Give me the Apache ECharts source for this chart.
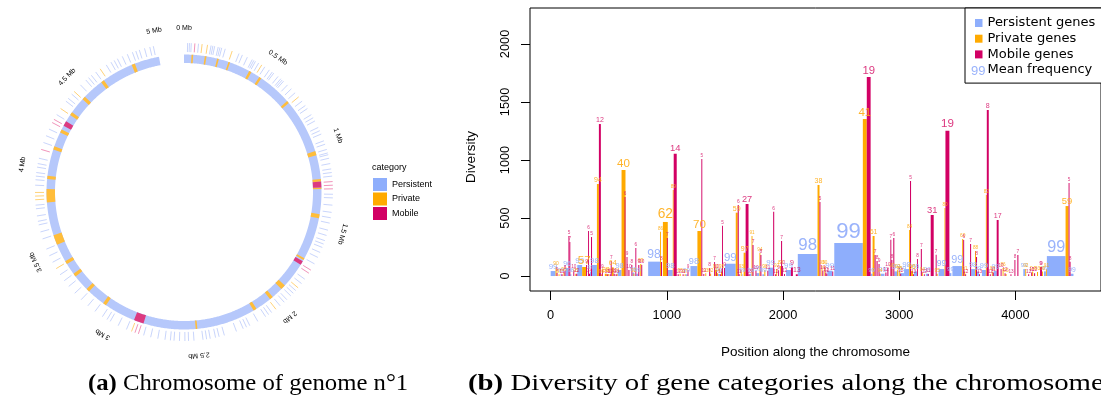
<!DOCTYPE html>
<html><head><meta charset="utf-8">
<script src="https://cdn.jsdelivr.net/npm/echarts@6/dist/echarts.min.js"></script>
<style>html,body{margin:0;padding:0;background:#fff}#c{width:1101px;height:399px}</style>
</head><body><div id="c"></div>
<script>
// ---------------- DATA ----------------
const categories = ['Persistent', 'Private', 'Mobile'];
const barSeriesNames = ['Persistent genes', 'Private genes', 'Mobile genes'];
const meanFreqName = 'Mean frequency';
const xTicks = [0, 1000, 2000, 3000, 4000];
const yTicks = [0, 500, 1000, 1500, 2000];

// [start, end, diversity, mean frequency]
const persistentBars = [
[0,42,43,99],[85,93,20,99],[127,153,69,96],[169,178,15,98],[229,271,95,99],[339,347,40,99],[356,398,95,98],[576,610,52,98],[703,720,30,99],[737,754,20,99],[839,941,124,98],[1008,1051,52,98],[1161,1178,15,99],[1203,1263,86,98],[1441,1458,18,99],[1500,1593,106,99],[1644,1652,15,99],[1712,1729,20,99],[1771,1797,25,99],[1822,1839,15,99],[1873,1915,72,99],[2026,2068,52,99],[2127,2297,190,98],[2381,2424,46,99],[2441,2687,284,99],[2754,2771,20,99],[2839,2873,20,99],[2958,2992,40,99],[3009,3042,25,99],[3042,3085,60,98],[3127,3153,40,99],[3229,3254,20,99],[3339,3390,60,99],[3432,3449,25,99],[3458,3542,86,99],[3619,3653,60,98],[3670,3687,40,99],[3712,3746,52,99],[3814,3839,43,99],[4068,4085,60,99],[4246,4263,40,99],[4271,4432,172,99],[4475,4500,20,99]
];
const privateBars = [
[42,51,80,90],[68,76,15,97],[110,119,30,96],[212,220,20,95],[271,305,78,57],[398,415,793,94],[432,441,15,90],[466,483,20,88],[492,500,18,93],[525,542,75,64],[568,576,20,91],[610,644,914,40],[712,720,20,92],[771,780,103,89],[941,949,382,86],[966,1008,466,62],[1051,1059,741,89],[1110,1119,20,95],[1153,1161,15,97],[1263,1297,388,70],[1331,1339,23,93],[1373,1381,20,92],[1415,1424,52,90],[1432,1441,23,94],[1466,1475,52,95],[1593,1610,546,59],[1636,1644,52,93],[1661,1678,201,97],[1729,1737,345,91],[1797,1805,198,94],[1839,1848,52,90],[1941,1949,60,92],[1975,1983,86,88],[2297,2314,785,38],[2331,2339,89,93],[2356,2364,86,90],[2687,2721,1353,41],[2771,2788,345,61],[2831,2839,20,94],[2933,2941,60,90],[2983,2992,52,92],[3000,3009,40,95],[3085,3093,397,84],[3102,3119,45,96],[3195,3203,30,94],[3322,3331,20,95],[3390,3398,586,80],[3542,3551,319,60],[3559,3568,40,91],[3653,3661,216,88],[3746,3754,698,82],[3797,3805,40,93],[3890,3898,69,86],[3915,3924,18,95],[4085,4093,60,92],[4144,4153,40,94],[4186,4195,35,93],[4229,4237,40,96],[4263,4271,60,91],[4432,4458,603,59]
];
const mobileBars = [
[51,59,26,9],[93,102,15,11],[119,127,46,8],[153,161,345,5],[161,169,293,7],[195,203,52,10],[220,229,20,12],[305,313,95,9],[322,330,388,6],[330,339,20,14],[347,356,336,5],[415,432,1310,12],[441,449,57,9],[483,492,15,13],[508,517,15,12],[517,525,129,7],[542,551,20,11],[559,568,15,13],[636,644,681,6],[653,661,164,9],[669,678,52,10],[695,703,95,8],[729,737,241,6],[754,763,95,9],[780,788,95,10],[949,958,121,8],[1000,1008,327,7],[1059,1085,1054,14],[1093,1102,15,12],[1136,1144,15,11],[1178,1186,52,9],[1297,1305,1009,5],[1314,1322,18,11],[1364,1373,69,8],[1407,1415,121,7],[1424,1432,52,10],[1458,1466,15,12],[1475,1483,434,5],[1492,1500,69,9],[1610,1619,612,6],[1619,1627,15,11],[1678,1703,621,27],[1703,1712,15,13],[1737,1746,267,7],[1763,1771,46,10],[1805,1814,181,8],[1865,1873,46,11],[1915,1924,555,6],[1932,1941,15,12],[1958,1966,50,9],[1983,1992,302,7],[1992,2000,86,10],[2009,2017,18,12],[2068,2085,75,9],[2110,2127,15,13],[2314,2322,638,5],[2339,2347,45,10],[2364,2373,30,11],[2373,2381,20,12],[2424,2432,40,11],[2721,2754,1716,19],[2788,2797,181,7],[2805,2814,129,8],[2822,2831,103,9],[2881,2890,30,12],[2898,2907,69,10],[2924,2932,313,7],[2932,2941,138,8],[2949,2958,328,6],[3009,3017,20,12],[3093,3102,819,5],[3119,3127,15,13],[3153,3161,147,8],[3186,3195,233,7],[3212,3220,15,12],[3246,3254,18,11],[3271,3297,526,31],[3314,3322,184,7],[3398,3432,1253,19],[3551,3559,310,6],[3568,3576,15,12],[3610,3619,276,7],[3661,3670,164,8],[3687,3695,15,13],[3754,3771,1431,8],[3780,3788,15,12],[3805,3814,30,11],[3839,3856,483,17],[3873,3881,60,10],[3907,3915,25,12],[3958,3966,15,13],[3992,4000,138,8],[4017,4026,181,7],[4110,4119,15,12],[4136,4144,30,11],[4161,4170,25,12],[4212,4220,78,9],[4220,4229,78,9],[4458,4466,802,5],[4466,4475,124,8]
];

// Circular genome (positions in Mb)
const genomeLengthMb = 5.0;
const circleFullTurnMb = 5.15;
const mbTicks = [0, 0.5, 1, 1.5, 2, 2.5, 3, 3.5, 4, 4.5, 5];
const mbTickLabels = ['0 Mb', '0.5 Mb', '1 Mb', '1.5 Mb', '2 Mb', '2.5 Mb', '3 Mb', '3.5 Mb', '4 Mb', '4.5 Mb', '5 Mb'];
// inner track stripes [start, end, category index]
const innerStripes = [
[0,5.0,0],
[0.045,0.055,1],[0.125,0.135,1],[0.2,0.21,1],[0.27,0.28,1],[0.405,0.42,1],[0.475,0.49,1],[0.695,0.71,1],[1.04,1.065,1],
[1.21,1.225,1],[1.225,1.26,2],[1.26,1.27,1],[1.42,1.445,1],[1.7,1.712,1],[1.72,1.745,2],[1.9,1.93,1],[2.0,2.02,1],[2.12,2.14,1],
[2.495,2.505,1],[2.82,2.88,2],[3.07,3.09,1],[3.2,3.22,1],[3.32,3.34,1],[3.41,3.43,1],[3.54,3.6,1],[3.8,3.88,1],[3.94,3.96,1],
[4.12,4.14,1],[4.23,4.25,1],[4.275,4.305,2],[4.35,4.37,1],[4.47,4.49,1],[4.62,4.64,1],[4.83,4.85,1]
];
// outer track ticks [position, category index]
const outerTicks = [
[0.02,0],[0.03,0],[0.04,0],[0.06,2],[0.08,0],[0.1,1],[0.13,1],[0.15,0],[0.16,0],[0.17,0],[0.19,0],[0.2,0],[0.21,0],[0.23,0],[0.27,1],[0.31,0],[0.33,0],[0.36,0],[0.39,0],[0.4,0],[0.41,0],[0.43,0],[0.45,1],[0.47,0],[0.5,0],[0.52,0],[0.53,0],[0.56,0],[0.58,0],[0.59,0],[0.6,0],[0.63,0],
[0.66,0],[0.69,0],[0.72,1],[0.75,0],[0.78,0],[0.8,0],[0.84,0],[0.86,0],[0.88,0],[0.92,0],[0.94,0],[0.96,0],[1.0,0],[1.02,0],[1.05,0],[1.07,0],[1.08,0],[1.1,0],[1.13,0],[1.16,0],[1.18,0],[1.2,0],[1.23,2],[1.25,2],[1.27,2],
[1.3,0],[1.32,0],[1.36,0],[1.4,0],[1.43,0],[1.46,0],[1.5,0],[1.53,0],[1.56,0],[1.58,0],[1.6,0],[1.63,0],[1.66,0],[1.7,0],[1.74,2],[1.76,2],[1.8,0],[1.83,0],[1.86,1],[1.88,0],[1.9,0],[1.92,0],
[1.95,0],[1.97,0],[2.0,0],[2.03,1],[2.06,0],[2.08,0],[2.1,0],[2.15,0],[2.2,0],[2.22,0],[2.24,0],[2.28,0],[2.35,0],[2.38,0],[2.4,0],[2.43,0],[2.45,0],[2.47,0],[2.52,0],[2.55,0],[2.57,0],
[2.6,0],[2.63,0],[2.65,0],[2.68,0],[2.72,0],[2.76,0],[2.8,0],[2.83,2],[2.85,2],[2.87,1],[2.9,0],[2.95,0],[3.0,0],[3.02,0],[3.05,0],[3.1,0],[3.15,0],[3.2,0],
[3.25,0],[3.3,0],[3.34,0],[3.38,0],[3.42,1],[3.46,0],[3.5,0],[3.54,0],[3.6,0],[3.64,0],[3.68,0],[3.7,0],[3.73,0],[3.77,0],[3.79,0],[3.82,1],[3.84,1],[3.86,1],
[3.9,0],[3.93,0],[3.95,0],[3.97,0],[4.0,0],[4.02,0],[4.05,0],[4.1,2],[4.14,0],[4.18,0],[4.22,0],[4.26,2],[4.28,2],[4.31,0],[4.35,1],[4.4,0],[4.42,0],[4.45,0],[4.47,1],
[4.52,0],[4.56,0],[4.58,0],[4.6,0],[4.63,0],[4.66,1],[4.7,0],[4.73,0],[4.75,0],[4.77,0],[4.8,0],[4.83,0],[4.86,0],[4.88,0],[4.9,0],[4.93,0],[4.96,0],[4.98,0]
];

// ---------------- STYLE ----------------
const catColors = ['#8eaefc', '#ffaa00', '#d20064'];
const ringColors = ['#b6c8fb', '#ffbd3a', '#dc3a80'];
const tickColors = ['#c3d0fb', '#ffcd6a', '#ee88b2'];
const labelColors = ['#9ab3fb', 'rgba(255,172,20,0.9)', 'rgba(214,20,105,0.85)'];

const chart = echarts.init(document.getElementById('c'), null, {width: 1101, height: 399});

function ringRender(r0, r1, color) {
  return function (params, api) {
    const a0 = api.value(0), a1 = api.value(1);
    const n = Math.max(1, Math.ceil((a1 - a0) / 0.005));
    const pts = [];
    for (let i = 0; i <= n; i++) pts.push(api.coord([r1, a0 + (a1 - a0) * i / n]));
    for (let i = n; i >= 0; i--) pts.push(api.coord([r0, a0 + (a1 - a0) * i / n]));
    return {type: 'polygon', shape: {points: pts}, style: {fill: color}};
  };
}
function tickRender(r0, r1, color) {
  return function (params, api) {
    const p = api.value(0);
    const a = api.coord([r0, p]), b = api.coord([r1, p]);
    return {type: 'line', shape: {x1: a[0], y1: a[1], x2: b[0], y2: b[1]}, style: {stroke: color, lineWidth: 0.9}};
  };
}
function mbLabelRender(params, api) {
  const pos = api.value(0);
  const c = api.coord([0, 0]);
  const p = api.coord([164, pos]);
  const theta = Math.atan2(p[0] - c[0], c[1] - p[1]);
  return {type: 'text', x: p[0], y: p[1], rotation: -theta,
    style: {text: mbTickLabels[params.dataIndex], align: 'center', verticalAlign: 'middle', fontSize: 7, fontFamily: 'Liberation Sans', fill: '#000'}};
}
function barRender(ci) {
  return function (params, api) {
    const x0 = api.value(0), x1 = api.value(1), v = api.value(2), lab = api.value(3);
    const p0 = api.coord([x0, 0]);
    const p1 = api.coord([x1, v]);
    const w = Math.max(0.8, p1[0] - p0[0]);
    const fs = ci === 0 ? 5 + 0.6 * w : 2.5 + 2.3 * w;
    return {type: 'group', children: [
      {type: 'rect', shape: {x: p0[0], y: p1[1], width: w, height: p0[1] - p1[1]}, style: {fill: catColors[ci]}},
      {type: 'text', z2: 5, style: {text: String(lab), x: p0[0] + w / 2, y: p1[1] - 0.5, align: 'center', verticalAlign: 'bottom',
        fontSize: fs, fontFamily: 'Liberation Sans', fill: labelColors[ci]}}
    ]};
  };
}

const series = [];
[0, 1, 2].forEach(ci => {
  series.push({type: 'custom', name: categories[ci], coordinateSystem: 'polar', itemStyle: {color: catColors[ci]},
    data: innerStripes.filter(d => d[2] === ci).map(d => [d[0], d[1]]), renderItem: ringRender(129, 137.5, ringColors[ci]), silent: true});
});
[0, 1, 2].forEach(ci => {
  series.push({type: 'custom', name: categories[ci], coordinateSystem: 'polar', itemStyle: {color: catColors[ci]},
    data: outerTicks.filter(d => d[1] === ci).map(d => [d[0]]), renderItem: tickRender(140, 149, tickColors[ci]), silent: true});
});
series.push({type: 'custom', name: 'mb', coordinateSystem: 'polar', data: mbTicks.map(v => [v]), renderItem: mbLabelRender, silent: true});
const barData = [persistentBars, privateBars, mobileBars];
[0, 1, 2].forEach(ci => {
  series.push({type: 'custom', name: barSeriesNames[ci], xAxisIndex: 0, yAxisIndex: 0, itemStyle: {color: catColors[ci]},
    data: barData[ci], encode: {x: [0, 1], y: 2}, renderItem: barRender(ci), clip: false, silent: true});
});
series.push({type: 'custom', name: meanFreqName, xAxisIndex: 0, yAxisIndex: 0, data: [], renderItem: () => null, itemStyle: {color: '#9ab3fb'}});

const plain = v => String(v);
const option = {
  animation: false,
  textStyle: {fontFamily: 'Liberation Sans'},
  title: {text: 'category', left: 372, top: 163, padding: 0, textStyle: {fontSize: 9, fontWeight: 'normal', fontFamily: 'Liberation Sans', color: '#000'}},
  legend: [
    {data: categories, orient: 'vertical', left: 373, top: 178, padding: 0, itemWidth: 14, itemHeight: 13, itemGap: 1.5, icon: 'rect',
      selectedMode: false, textStyle: {fontSize: 9, fontFamily: 'Liberation Sans', color: '#000'}},
    {data: [{name: barSeriesNames[0]}, {name: barSeriesNames[1]}, {name: barSeriesNames[2]}, {name: meanFreqName, icon: 'none'}],
      orient: 'vertical', left: 965, top: 8, padding: [8, 20, 6, 10], itemWidth: 7.5, itemHeight: 8, itemGap: 1.7, icon: 'rect',
      borderColor: '#000', borderWidth: 1, backgroundColor: '#fff', selectedMode: false,
      textStyle: {fontSize: 13, lineHeight: 14, fontFamily: 'DejaVu Sans', color: '#000'}}
  ],
  polar: {center: [184, 192], radius: 150},
  angleAxis: {type: 'value', min: 0, max: circleFullTurnMb, startAngle: 90, clockwise: true,
    axisLine: {show: false}, axisTick: {show: false}, axisLabel: {show: false}, splitLine: {show: false}},
  radiusAxis: {type: 'value', min: 0, max: 150, axisLine: {show: false}, axisTick: {show: false}, axisLabel: {show: false}, splitLine: {show: false}},
  grid: {left: 530, top: 8, width: 580, height: 283, show: true, borderColor: '#000', borderWidth: 1, backgroundColor: 'transparent', containLabel: false},
  xAxis: {type: 'value', min: -178, max: 4737,
    axisLine: {show: false, onZero: false}, splitLine: {show: false},
    axisTick: {show: true, length: 9, customValues: xTicks, lineStyle: {color: '#000'}},
    axisLabel: {customValues: xTicks, formatter: plain, margin: 18, fontSize: 12.8, color: '#000', fontFamily: 'Liberation Sans'},
    name: 'Position along the chromosome', nameLocation: 'middle', nameGap: 54,
    nameTextStyle: {fontSize: 13.5, color: '#000', fontFamily: 'Liberation Sans'}},
  yAxis: {type: 'value', min: -129, max: 2310,
    axisLine: {show: false, onZero: false}, splitLine: {show: false},
    axisTick: {show: true, length: 9, customValues: yTicks, lineStyle: {color: '#000'}},
    axisLabel: {customValues: yTicks, formatter: plain, rotate: 90, margin: 18, fontSize: 12.8, color: '#000', fontFamily: 'Liberation Sans'}},
  graphic: [
    {type: 'text', x: 471, y: 157, rotation: Math.PI / 2,
      style: {text: 'Diversity', align: 'center', verticalAlign: 'middle', fontSize: 13.5, fontFamily: 'Liberation Sans', fill: '#000'}},
    {type: 'text', x: 971, y: 71, z: 100,
      style: {text: '99', align: 'left', verticalAlign: 'middle', fontSize: 13, fontFamily: 'Liberation Sans', fill: '#9ab3fb'}},
    {type: 'text', x: 88, y: 384, scaleX: 1.03,
      style: {text: '{b|(a)} Chromosome of genome n°1', verticalAlign: 'middle', fontSize: 24, fontFamily: 'Liberation Serif', fill: '#000',
        rich: {b: {fontWeight: 'bold', fontSize: 24, fontFamily: 'Liberation Serif'}}}},
    {type: 'text', x: 468, y: 384, scaleX: 1.2,
      style: {text: '{b|(b)} Diversity of gene categories along the chromosome', verticalAlign: 'middle', fontSize: 24, fontFamily: 'Liberation Serif', fill: '#000',
        rich: {b: {fontWeight: 'bold', fontSize: 24, fontFamily: 'Liberation Serif'}}}}
  ],
  series: series
};
chart.setOption(option);
</script></body></html>
